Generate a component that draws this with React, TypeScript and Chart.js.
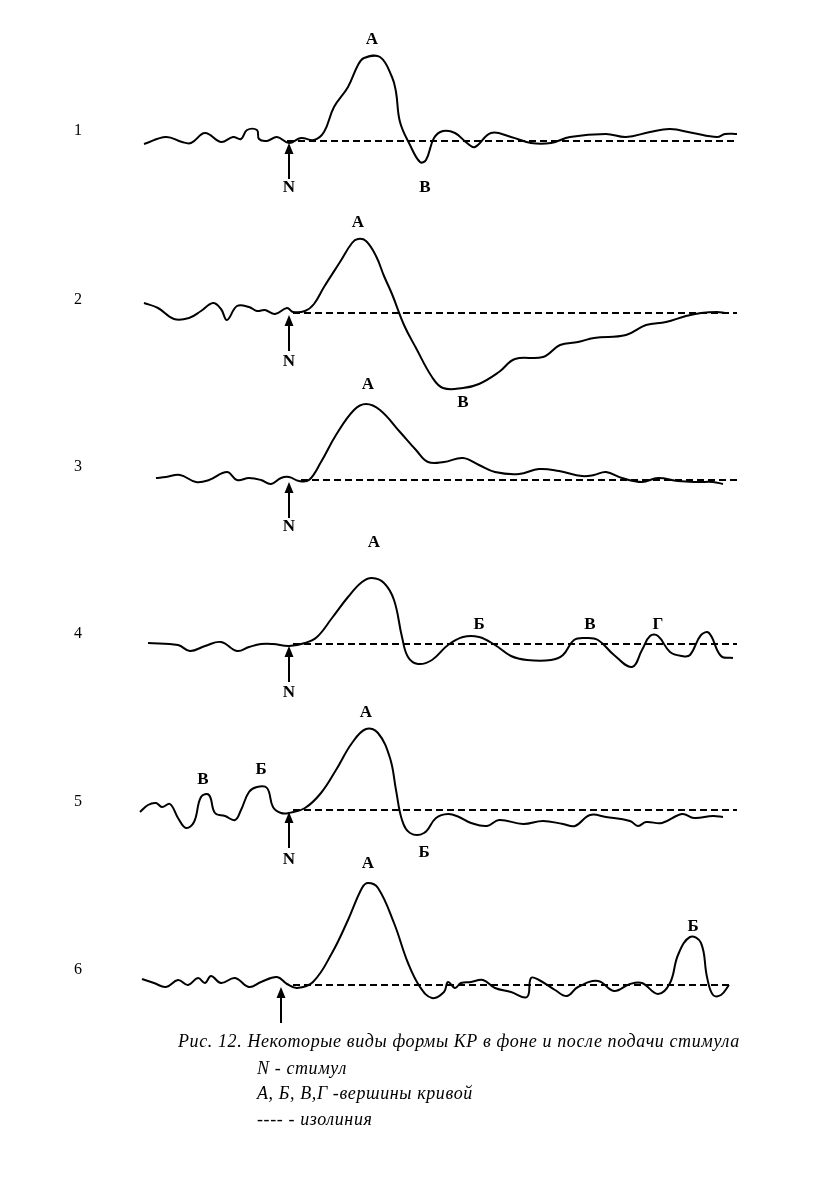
import React, { useEffect, useRef } from "react";
import { Chart, registerables } from "chart.js";

Chart.register(...registerables);

// ---- data: time (relative to stimulus N) and amplitude (relative to isoline) ----
const t1 = [-145,-123,-107,-98,-84,-68,-56,-48,-42,-32,-30,-22,-12,0,12,25,35,45,59,69,75,91,103,107,111,121,131,137,145,154,166,178,186,202,222,242,262,281,317,337,361,381,404,428,436,448];
const v1 = [-3,4,-1,-2,8,-1,4,2,11,11,2,0,4,-2,3,1,9,34,54,76,83,84,64,49,19,-4,-21,-19,3,10,8,-2,-6,8,4,-2,-2,4,7,4,9,12,8,4,7,7];

const t2 = [-145,-131,-115,-100,-88,-76,-68,-62,-52,-40,-32,-24,-14,-2,4,16,25,35,51,63,69,77,87,95,103,115,127,143,154,174,190,210,226,254,271,289,305,337,357,377,397,412,428,436];
const v2 = [10,5,-6,-5,2,10,4,-7,7,6,2,3,-1,5,1,2,9,26,51,70,74,72,57,37,19,-12,-35,-64,-75,-75,-71,-59,-46,-44,-32,-29,-25,-22,-12,-9,-3,0,1,0];

const t3 = [-133,-123,-109,-93,-80,-62,-52,-40,-28,-18,-8,0,10,20,32,47,65,77,91,111,127,139,155,174,190,206,230,250,270,293,305,317,333,353,369,389,409,424,434];
const v3 = [2,3,5,-2,0,8,0,2,0,-4,2,3,-1,0,18,45,70,76,70,48,30,18,18,22,15,8,6,11,9,4,5,8,2,-2,2,-1,-2,-2,-4];

const t4 = [-141,-111,-99,-84,-68,-52,-40,-28,-16,0,16,28,43,59,73,83,95,105,113,119,129,143,159,174,190,206,222,238,262,274,285,297,309,325,343,353,361,369,381,393,401,412,420,432,444];
const v4 = [1,-1,-7,-2,2,-7,-3,0,0,-2,1,7,26,47,62,66,61,44,7,-13,-20,-16,-1,7,7,-1,-12,-16,-16,-11,4,6,4,-11,-23,-6,8,8,-8,-12,-11,9,11,-12,-14];

const t5 = [-149,-141,-133,-127,-119,-111,-103,-95,-88,-80,-74,-64,-54,-48,-40,-32,-22,-16,-8,0,16,32,47,63,77,89,101,107,113,121,135,147,159,170,182,198,210,234,254,274,286,301,317,341,349,357,373,393,405,424,434];
const v5 = [-2,5,7,3,6,-8,-18,-12,13,15,-3,-6,-10,0,18,23,22,3,-3,-3,2,17,40,67,81,77,52,20,-10,-23,-23,-8,-4,-7,-13,-16,-10,-14,-11,-14,-16,-5,-7,-11,-16,-12,-13,-4,-8,-6,-7];

const t6 = [-147,-135,-123,-111,-101,-91,-84,-78,-68,-54,-40,-28,-12,-2,8,24,43,59,73,79,89,105,119,131,143,155,159,166,172,182,194,206,222,238,242,250,266,278,289,309,325,341,353,369,381,389,401,412,418,424,432,440];
const v6 = [6,2,-2,5,0,7,2,9,2,7,-2,3,8,1,-3,3,32,65,97,102,97,62,22,-2,-13,-7,3,-3,2,3,5,-3,-7,-12,7,5,-5,-11,-2,4,-6,1,2,-9,2,30,48,42,8,-10,-10,0];

// isoline extents (start, end) for each curve
const isoStart = [-2, 4, 12, 4, 4, 4];
const isoEnd = [448, 448, 448, 448, 448, 442];

// stimulus time for each curve's arrow
const stimT = [0, 0, 0, 0, 0, -8];

// curve numbers
const curveNames = ["1", "2", "3", "4", "5", "6"];

// peak labels: text, time, amplitude
const peaks1 = [{ s: "А", t: 83, v: 101 }, { s: "N", t: 0, v: -47 }, { s: "В", t: 136, v: -47 }];
const peaks2 = [{ s: "А", t: 69, v: 90 }, { s: "N", t: 0, v: -49 }, { s: "В", t: 174, v: -90 }];
const peaks3 = [{ s: "А", t: 79, v: 95 }, { s: "N", t: 0, v: -47 }];
const peaks4 = [{ s: "А", t: 85, v: 101 }, { s: "Б", t: 190, v: 19 }, { s: "В", t: 301, v: 19 }, { s: "Г", t: 369, v: 19 }, { s: "N", t: 0, v: -49 }];
const peaks5 = [{ s: "А", t: 77, v: 97 }, { s: "В", t: -86, v: 30 }, { s: "Б", t: -28, v: 40 }, { s: "N", t: 0, v: -50 }, { s: "Б", t: 135, v: -43 }];
const peaks6 = [{ s: "А", t: 79, v: 121 }, { s: "Б", t: 404, v: 58 }];

const captionLines = [
  "Рис. 12. Некоторые виды формы КР в фоне и после подачи стимула",
  "N - стимул",
  "А, Б, В,Г -вершины кривой",
  "---- - изолиния",
];

// ---- layout ----
const W = 832;
const H = 1184;
const ORIGIN_X = 289; // page column of stimulus
const baselineRows = [141, 313, 480, 644, 810, 985];
const nameLift = [10, 13, 13, 10, 8, 15];

const TS = [t1, t2, t3, t4, t5, t6];
const VS = [v1, v2, v3, v4, v5, v6];
const PEAKS = [peaks1, peaks2, peaks3, peaks4, peaks5, peaks6];

const annotPlugin = {
  id: "annot",
  afterDatasetsDraw(chart: any) {
    const ctx = chart.ctx;
    const xs = chart.scales.x;
    ctx.save();
    ctx.fillStyle = "#000";
    ctx.strokeStyle = "#000";
    for (let k = 0; k < 6; k++) {
      const ys = chart.scales["y" + k];
      // arrow
      const ax = xs.getPixelForValue(stimT[k]);
      const tip = ys.getPixelForValue(-2);
      const tail = ys.getPixelForValue(-38);
      ctx.lineWidth = 2;
      ctx.beginPath();
      ctx.moveTo(ax, tail);
      ctx.lineTo(ax, tip + 8);
      ctx.stroke();
      ctx.beginPath();
      ctx.moveTo(ax, tip);
      ctx.lineTo(ax - 4.5, tip + 11);
      ctx.lineTo(ax + 4.5, tip + 11);
      ctx.closePath();
      ctx.fill();
      // labels
      ctx.font = "bold 17px 'Liberation Serif', 'Times New Roman', serif";
      ctx.textAlign = "center";
      ctx.textBaseline = "middle";
      for (const p of PEAKS[k]) {
        ctx.fillText(p.s, xs.getPixelForValue(p.t), ys.getPixelForValue(p.v));
      }
      // curve number
      ctx.font = "16px 'Liberation Serif', 'Times New Roman', serif";
      ctx.fillText(curveNames[k], xs.getPixelForValue(-211), ys.getPixelForValue(nameLift[k]));
    }
    ctx.restore();
  },
};

export default function App() {
  const ref = useRef<HTMLCanvasElement>(null);
  useEffect(() => {
    if (!ref.current) return;
    const datasets: any[] = [];
    const scales: any = {
      x: { type: "linear", min: -ORIGIN_X, max: W - ORIGIN_X, display: false },
    };
    for (let k = 0; k < 6; k++) {
      const b = baselineRows[k];
      scales["y" + k] = { type: "linear", min: b - H, max: b, display: false };
      datasets.push({
        data: TS[k].map((t, i) => ({ x: t, y: VS[k][i] })),
        yAxisID: "y" + k,
        borderColor: "#000",
        borderWidth: 2,
        pointRadius: 0,
        tension: 0.4,
        fill: false,
        clip: false,
      });
      datasets.push({
        data: [{ x: isoStart[k], y: 0 }, { x: isoEnd[k], y: 0 }],
        yAxisID: "y" + k,
        borderColor: "#000",
        borderWidth: 2,
        borderDash: [7, 4],
        pointRadius: 0,
        tension: 0,
        fill: false,
        clip: false,
      });
    }
    const chart = new Chart(ref.current, {
      type: "line",
      data: { datasets },
      options: {
        animation: false,
        responsive: false,
        layout: { padding: 0 },
        plugins: { legend: { display: false }, tooltip: { enabled: false } },
        scales,
      } as any,
      plugins: [annotPlugin],
    });
    return () => chart.destroy();
  }, []);

  const capStyle = (left: number, cy: number): React.CSSProperties => ({
    position: "absolute",
    left,
    top: cy - 12,
    height: 24,
    lineHeight: "24px",
    fontFamily: "'Liberation Serif', 'Times New Roman', serif",
    fontStyle: "italic",
    fontSize: 18,
    letterSpacing: 0.6,
    whiteSpace: "nowrap",
    color: "#000",
  });

  return (
    <div style={{ position: "absolute", left: 0, top: 0, width: W, height: H, background: "#fff" }}>
      <canvas ref={ref} width={W} height={H} style={{ position: "absolute", left: 0, top: 0, width: W, height: H }} />
      <div style={capStyle(178, 1041)}>{captionLines[0]}</div>
      <div style={capStyle(257, 1068)}>{captionLines[1]}</div>
      <div style={capStyle(257, 1093)}>{captionLines[2]}</div>
      <div style={capStyle(257, 1119)}>{captionLines[3]}</div>
    </div>
  );
}
